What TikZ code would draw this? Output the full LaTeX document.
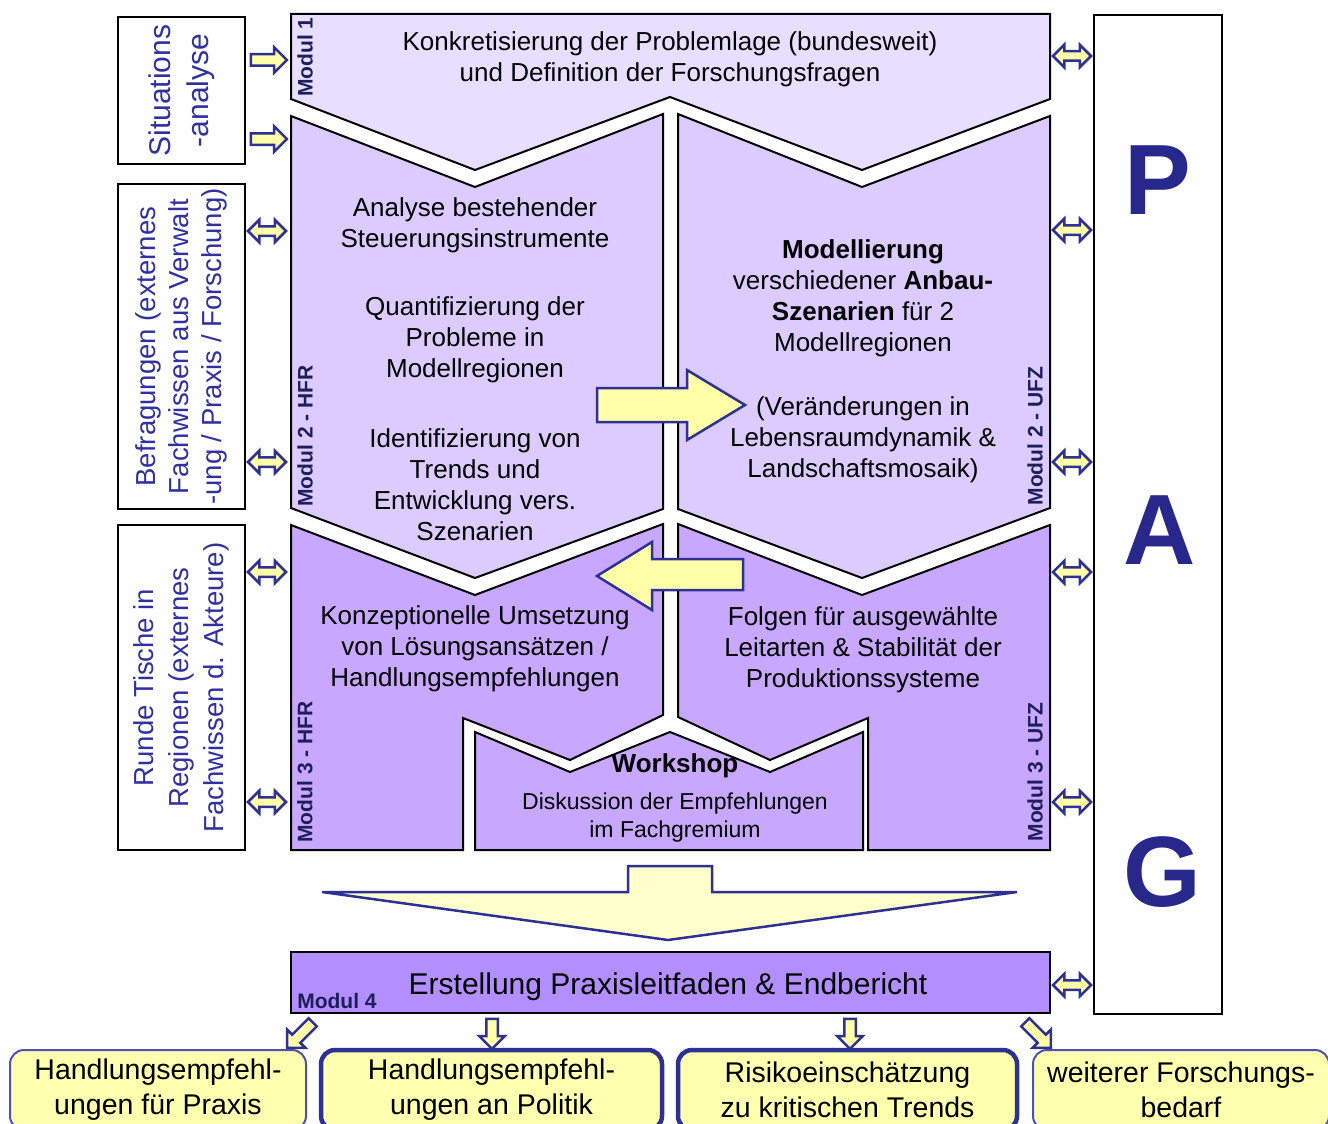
\documentclass[tikz,border=0pt]{standalone}
\usepackage{fontspec}
\setmainfont{Liberation Sans}
\usetikzlibrary{shapes.arrows}
\definecolor{modA}{RGB}{232,222,255}
\definecolor{modB}{RGB}{220,203,255}
\definecolor{modC}{RGB}{200,168,255}
\definecolor{modD}{RGB}{178,142,255}
\definecolor{arrowline}{RGB}{46,49,146}
\definecolor{arrowfill}{RGB}{255,255,170}
\definecolor{bigfill}{RGB}{255,255,204}
\definecolor{boxfill}{RGB}{255,255,176}
\definecolor{thinline}{RGB}{80,80,180}
\definecolor{sidetext}{RGB}{48,48,160}
\definecolor{labeltext}{RGB}{30,30,90}
\definecolor{pagtext}{RGB}{40,40,140}
\begin{document}
\begin{tikzpicture}[x=1pt,y=-1pt,
module/.style={draw=black,line width=2pt,line join=miter},
sidebox/.style={draw=black,line width=2pt,fill=white,inner sep=0pt,align=center,text=sidetext},
maintext/.style={align=center,font=\fontsize{26}{31}\selectfont},
modlabel/.style={text=labeltext,font=\fontsize{21}{24}\selectfont\bfseries,inner sep=0pt},
bigletter/.style={text=pagtext,font=\fontsize{100}{110}\selectfont\bfseries},
flowarrow/.style={draw=arrowline,fill=arrowfill,line width=2.5pt,line join=miter},
pushR/.style={single arrow,draw=arrowline,fill=arrowfill,line width=2.5pt,inner sep=4.5pt,single arrow head extend=7pt,minimum height=36pt},
swap/.style={double arrow,draw=arrowline,fill=arrowfill,line width=2.5pt,inner sep=3.5pt,double arrow head extend=6.5pt,minimum height=38pt},
outbox/.style={draw=thinline,fill=boxfill,line width=2pt,rounded corners=14pt,align=center,font=\fontsize{28.5}{35}\selectfont,minimum height=80pt},
outboxbold/.style={outbox,draw=arrowline,line width=4.5pt}]
\useasboundingbox (0,0) rectangle (1328,1124);
\clip (0,0) rectangle (1328,1124);
% modules
\draw[module,fill=modA] (291,14) -- (1050,14) -- (1050,99) -- (862,170) -- (670,97) -- (475,170) -- (291,99) -- cycle;
\draw[module,fill=modB] (291,116) -- (475,187) -- (663,114) -- (663,509) -- (475,578) -- (291,508) -- cycle;
\draw[module,fill=modB] (678,114) -- (862,187) -- (1050,116) -- (1050,508) -- (862,578) -- (678,509) -- cycle;
\draw[module,fill=modC] (291,525) -- (475,595) -- (663,524) -- (663,715) -- (570,760) -- (463,718) -- (463,850) -- (291,850) -- cycle;
\draw[module,fill=modC] (678,524) -- (862,595) -- (1050,525) -- (1050,850) -- (868,850) -- (868,718) -- (770,760) -- (678,717) -- cycle;
\draw[module,fill=modC] (475,732) -- (570,772) -- (670,732) -- (770,772) -- (863,732) -- (863,850) -- (475,850) -- cycle;
\draw[module,fill=modD] (291,952) rectangle (1050,1013);
% side boxes
\node[sidebox,rotate=90,minimum width=147pt,minimum height=127pt,font=\fontsize{30}{38}\selectfont] (sitbox) at (181.5,90.5) {Situations\\-analyse};
\node[sidebox,rotate=90,minimum width=325pt,minimum height=127pt,font=\fontsize{27.5}{33}\selectfont] (befbox) at (181.5,346.5) {Befragungen (externes\\Fachwissen aus Verwalt\\-ung / Praxis / Forschung)};
\node[sidebox,rotate=90,minimum width=325pt,minimum height=127pt,font=\fontsize{27.5}{35}\selectfont] (rtbox) at (181.5,687.5) {Runde Tische in\\Regionen (externes\\Fachwissen d. Akteure)};
\node[sidebox,minimum width=128pt,minimum height=999pt,anchor=north west] (pag) at (1093,14) {};
\node[bigletter] (letP) at (1158,180) {P};
\node[bigletter] (letA) at (1160,530) {A};
\node[bigletter] (letG) at (1162,872) {G};
% module labels
\node[modlabel,rotate=90] (labA) at (305,57) {Modul 1};
\node[modlabel,rotate=90] (labB) at (305,436) {Modul 2 - HFR};
\node[modlabel,rotate=90] (labC) at (305,772) {Modul 3 - HFR};
\node[modlabel,rotate=90] (labD) at (1035,436) {Modul 2 - UFZ};
\node[modlabel,rotate=90] (labE) at (1035,772) {Modul 3 - UFZ};
\node[modlabel] (labF) at (337,1001) {Modul 4};
% texts
\node[maintext] (probtext) at (670,59) {Konkretisierung der Problemlage (bundesweit)\\und Definition der Forschungsfragen};
\node[maintext] (hfrA) at (475,225) {Analyse bestehender\\Steuerungsinstrumente};
\node[maintext] (hfrB) at (475,340) {Quantifizierung der\\Probleme in\\Modellregionen};
\node[maintext] (hfrC) at (475,485) {Identifizierung von\\Trends und\\Entwicklung vers.\\Szenarien};
\node[maintext] (ufzA) at (863,298.5) {\textbf{Modellierung}\\verschiedener \textbf{Anbau-}\\\textbf{Szenarien} für 2\\Modellregionen};
\node[maintext] (ufzB) at (863,439.5) {(Veränderungen in\\Lebensraumdynamik \&\\Landschaftsmosaik)};
\node[maintext] (hfrD) at (475,648.5) {Konzeptionelle Umsetzung\\von Lösungsansätzen /\\Handlungsempfehlungen};
\node[maintext] (ufzD) at (863,649.5) {Folgen für ausgewählte\\Leitarten \& Stabilität der\\Produktionssysteme};
\node[font=\fontsize{26}{31}\selectfont\bfseries] (wshead) at (675,766) {Workshop};
\node[align=center,font=\fontsize{23}{28}\selectfont] (wstext) at (675,818) {Diskussion der Empfehlungen\\im Fachgremium};
\node[font=\fontsize{30}{36}\selectfont] (finaltext) at (668,987) {Erstellung Praxisleitfaden \& Endbericht};
% flow arrows
\draw[flowarrow] (597,388) -- (687,388) -- (687,370) -- (745,405) -- (687,440) -- (687,422) -- (597,422) -- cycle;
\draw[flowarrow] (743,559) -- (652,559) -- (652,542) -- (597,576) -- (652,610) -- (652,590) -- (743,590) -- cycle;
\draw[flowarrow,fill=bigfill] (628,866) -- (712,866) -- (712,892) -- (1017,892) -- (668,940) -- (322,892) -- (628,892) -- cycle;
% small arrows
\node[pushR] (inA) at (266,60) {};
\node[pushR] (inB) at (266,139) {};
\node[swap] (exA) at (267,231) {};
\node[swap] (exB) at (267,462) {};
\node[swap] (exC) at (267,572) {};
\node[swap] (exD) at (267,802) {};
\node[swap] (pgA) at (1072,56) {};
\node[swap] (pgB) at (1072,230) {};
\node[swap] (pgC) at (1072,462) {};
\node[swap] (pgD) at (1072,572) {};
\node[swap] (pgE) at (1072,802) {};
\node[swap] (pgF) at (1072,985) {};
\node[pushR,rotate=225,minimum height=36pt] (outArrA) at (302,1033) {};
\node[pushR,shape border rotate=270,minimum height=30pt] (outArrB) at (492,1031) {};
\node[pushR,shape border rotate=270,minimum height=30pt] (outArrC) at (850,1031) {};
\node[pushR,rotate=315,minimum height=36pt] (outArrD) at (1036,1033) {};
% results
\node[outbox,minimum width=296pt] (outA) at (158,1090) {Handlungsempfehl-\\ungen für Praxis};
\node[outboxbold,minimum width=341pt] (outB) at (491.5,1090) {Handlungsempfehl-\\ungen an Politik};
\node[outboxbold,minimum width=339pt] (outC) at (847.5,1090) {Risikoeinschätzung\\zu kritischen Trends};
\node[outbox,minimum width=296pt] (outD) at (1181,1090) {weiterer Forschungs-\\bedarf};
\end{tikzpicture}
\end{document}
